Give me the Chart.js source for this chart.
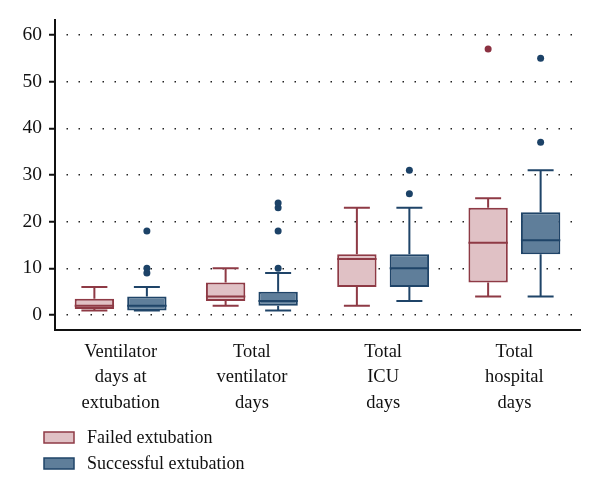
<!DOCTYPE html>
<html>
<head>
<meta charset="utf-8">
<script src="https://cdn.jsdelivr.net/npm/chart.js@4/dist/chart.umd.min.js"></script>
<style>
  html, body { margin: 0; padding: 0; background: #fff; }
  #wrap { width: 600px; height: 497px; }
</style>
</head>
<body>
<div id="wrap"><canvas id="boxChart" width="600" height="497"></canvas></div>
<script>
// Categories (multi-line tick labels)
const categories = [
  ['Ventilator', 'days at', 'extubation'],
  ['Total', 'ventilator', 'days'],
  ['Total', 'ICU', 'days'],
  ['Total', 'hospital', 'days']
];
const yTicks = [0, 10, 20, 30, 40, 50, 60];

// Failed extubation: five-number summary + outliers
const failedMin = [1, 2, 2, 4];
const failedQ1 = [1.3, 3, 6, 7];
const failedMedian = [2, 4, 12, 15.5];
const failedQ3 = [3.5, 7, 13, 23];
const failedMax = [6, 10, 23, 25];
const failedOutliers = [[], [], [], [57]];

// Successful extubation
const successMin = [1, 1, 3, 4];
const successQ1 = [1, 2, 6, 13];
const successMedian = [2, 3, 10, 16];
const successQ3 = [4, 5, 13, 22];
const successMax = [6, 9, 23, 31];
const successOutliers = [[9, 10, 18], [10, 18, 23, 24], [26, 31], [37, 55]];

const seriesNames = ['Failed extubation', 'Successful extubation'];
const fills = ['#e0c1c5', '#5f7e9a'];
const borders = ['#8e3a45', '#1f4468'];
const dotColors = ['#8b3141', '#1c4267'];

const stats = [
  { min: failedMin, median: failedMedian, q3: failedQ3, max: failedMax, q1: failedQ1, outliers: failedOutliers },
  { min: successMin, median: successMedian, q3: successQ3, max: successMax, q1: successQ1, outliers: successOutliers }
];

const FONT = "'Liberation Serif', 'DejaVu Serif', serif";

// Draws whiskers, medians and outlier dots on top of the floating bars
const boxPlot = {
  id: 'boxPlot',
  afterDatasetsDraw(chart) {
    const ctx = chart.ctx;
    const y = chart.scales.y;
    chart.data.datasets.forEach((ds, d) => {
      const meta = chart.getDatasetMeta(d);
      const s = stats[d];
      meta.data.forEach((bar, i) => {
        const x = bar.x;
        const half = bar.width / 2;
        const cap = bar.width * 0.33;
        const yMax = y.getPixelForValue(s.max[i]);
        const yMin = y.getPixelForValue(s.min[i]);
        const yQ1 = y.getPixelForValue(s.q1[i]);
        const yQ3 = y.getPixelForValue(s.q3[i]);
        const yMed = y.getPixelForValue(s.median[i]);
        ctx.save();
        ctx.strokeStyle = borders[d];
        ctx.lineWidth = 2;
        ctx.beginPath();
        ctx.moveTo(x, yQ3); ctx.lineTo(x, yMax);
        ctx.moveTo(x - cap, yMax); ctx.lineTo(x + cap, yMax);
        ctx.moveTo(x, yQ1); ctx.lineTo(x, yMin);
        ctx.moveTo(x - cap, yMin); ctx.lineTo(x + cap, yMin);
        ctx.moveTo(x - half, yMed); ctx.lineTo(x + half, yMed);
        ctx.stroke();
        ctx.fillStyle = dotColors[d];
        s.outliers[i].forEach(v => {
          ctx.beginPath();
          ctx.arc(x, y.getPixelForValue(v), 3.5, 0, Math.PI * 2);
          ctx.fill();
        });
        ctx.restore();
      });
    });
  }
};

// Vertical legend in the lower-left corner
const sideLegend = {
  id: 'sideLegend',
  afterDraw(chart) {
    const ctx = chart.ctx;
    ctx.save();
    ctx.font = '18px ' + FONT;
    ctx.textBaseline = 'middle';
    ctx.textAlign = 'left';
    chart.data.datasets.forEach((ds, d) => {
      const top = 432 + d * 26;
      ctx.fillStyle = fills[d];
      ctx.fillRect(44, top, 30, 11);
      ctx.strokeStyle = borders[d];
      ctx.lineWidth = 1.5;
      ctx.strokeRect(44, top, 30, 11);
      ctx.fillStyle = '#111';
      ctx.fillText(ds.label, 87, top + 6);
    });
    ctx.restore();
  }
};

const ctx = document.getElementById('boxChart').getContext('2d');
new Chart(ctx, {
  type: 'bar',
  data: {
    labels: categories,
    datasets: [0, 1].map(d => ({
      label: seriesNames[d],
      data: stats[d].q1.map((q, i) => [q, stats[d].q3[i]]),
      backgroundColor: fills[d],
      borderColor: borders[d],
      borderWidth: 2,
      borderSkipped: false,
      categoryPercentage: 0.8,
      barPercentage: 0.75
    }))
  },
  options: {
    responsive: false,
    animation: false,
    layout: { padding: { left: 0, top: 20, right: 20, bottom: 77 } },
    plugins: {
      legend: { display: false },
      tooltip: { enabled: false }
    },
    scales: {
      x: {
        grid: { display: false },
        border: { display: true, color: '#111', width: 2 },
        ticks: {
          color: '#111',
          padding: 1,
          maxRotation: 0,
          autoSkip: false,
          font: { family: FONT, size: 18.5, lineHeight: 1.38 }
        },
        afterFit: scale => { scale.height = 90; }
      },
      y: {
        min: -3.2,
        max: 63.2,
        afterBuildTicks: scale => { scale.ticks = yTicks.map(v => ({ value: v })); },
        grid: {
          color: '#222',
          lineWidth: 1.5,
          tickLength: 6,
          tickColor: '#111',
          tickWidth: 2,
          tickBorderDash: []
        },
        border: { display: true, color: '#111', width: 2, dash: [1.5, 10.5], dashOffset: 1.5 },
        ticks: {
          color: '#111',
          padding: 7,
          font: { family: FONT, size: 19.5 }
        },
        afterFit: scale => { scale.width = 55; }
      }
    }
  },
  plugins: [boxPlot, sideLegend]
});
</script>
</body>
</html>
